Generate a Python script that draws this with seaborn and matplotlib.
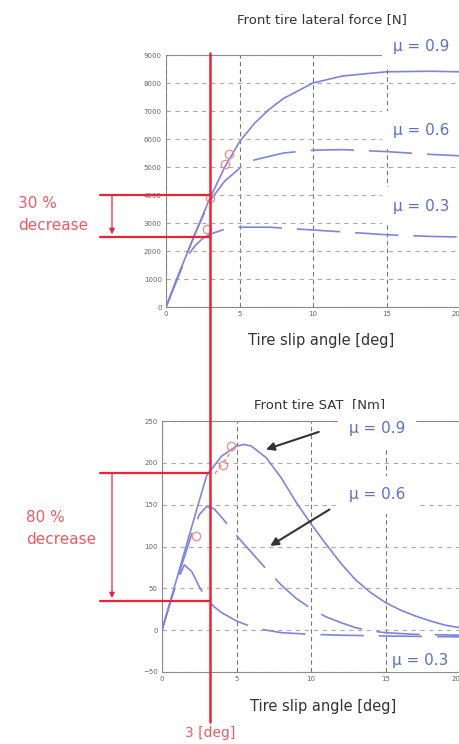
import numpy as np
import pandas as pd
import matplotlib.pyplot as plt
import matplotlib.transforms as mtransforms
from matplotlib.lines import Line2D
import seaborn as sns

# ------------------------------------------------------------
# values
# ------------------------------------------------------------
MU_LABELS = ["0.9", "0.6", "0.3"]

# front tire lateral force [N]
fy_x_09 = [0, 1, 2, 3, 4, 5, 6, 7, 8, 10, 12, 15, 18, 20]
fy_y_09 = [0, 1350, 2650, 3900, 5000, 5900, 6550, 7050, 7450, 8000, 8250, 8400, 8420, 8400]
fy_x_06 = [0, 1, 2, 3, 4, 5, 6, 8, 10, 12, 15, 18, 20]
fy_y_06 = [0, 1350, 2650, 3800, 4500, 4950, 5250, 5500, 5600, 5620, 5550, 5450, 5400]
fy_x_03 = [0, 0.5, 1, 1.5, 2, 2.5, 3, 4, 5, 7, 10, 13, 15, 18, 20]
fy_y_03 = [0, 650, 1300, 1850, 2200, 2450, 2600, 2780, 2850, 2850, 2750, 2650, 2580, 2520, 2500]
fy_mark_x = [2.8, 3.0, 4.0, 4.3]
fy_mark_y = [2800, 3900, 5100, 5450]

# front tire self aligning torque [Nm]
sat_x_09 = [0, 1, 2, 3, 4, 5, 5.5, 6, 7, 8, 9, 10, 11, 12, 13, 14, 15, 16, 17, 18, 19, 20]
sat_y_09 = [0, 62, 124, 185, 208, 220, 222, 220, 206, 182, 153, 127, 103, 80, 60, 45, 33, 24, 17, 11, 6, 3]
sat_x_06 = [0, 1, 2, 2.5, 3, 3.5, 4, 5, 6, 7, 8, 9, 10, 11, 12, 13, 14, 15, 17, 20]
sat_y_06 = [0, 60, 115, 138, 148, 145, 135, 113, 93, 73, 54, 38, 26, 16, 9, 3, -1, -3, -5, -6]
sat_x_03 = [0, 0.5, 1, 1.5, 2, 2.5, 3, 3.5, 4, 5, 6, 7, 8, 10, 12, 15, 20]
sat_y_03 = [0, 30, 58, 78, 70, 52, 37, 28, 21, 11, 4, 0, -3, -5, -6, -7, -8]
sat_mark_x = [2.3, 4.1, 4.6]
sat_mark_y = [113, 198, 220]
sat_peak_x = [3.55, 5.0]
sat_peak_y = [187, 222]

# red guide levels
slip_ref = 3
fy_levels = [4000, 2500]
sat_levels = [188, 35]

BLUE = "#7d84e0"
TXT_BLUE = "#5a6fcf"
RED = "#e3263a"
RED_TXT = "#ec5a62"
GREY = "#666666"


def to_long(xs, ys):
    frames = []
    for mu, x, y in zip(MU_LABELS, xs, ys):
        frames.append(pd.DataFrame({"slip": x, "val": y, "mu": mu}))
    return pd.concat(frames, ignore_index=True)


fy_df = to_long([fy_x_09, fy_x_06, fy_x_03], [fy_y_09, fy_y_06, fy_y_03])
sat_df = to_long([sat_x_09, sat_x_06, sat_x_03], [sat_y_09, sat_y_06, sat_y_03])

sns.set_theme(style="white")
plt.rcParams["font.family"] = ["DejaVu Sans"]

fig = plt.figure(figsize=(4.6, 7.44), dpi=100)
ax1 = fig.add_axes([166 / 460, 1 - 307 / 744, 294 / 460, 252 / 744])
ax2 = fig.add_axes([162 / 460, 1 - 672 / 744, 298 / 460, 251 / 744])

dash_map = {"0.9": "", "0.6": (26, 9), "0.3": (26, 9)}
pal = {m: BLUE for m in MU_LABELS}

for ax, df in [(ax1, fy_df), (ax2, sat_df)]:
    sns.lineplot(data=df, x="slip", y="val", hue="mu", style="mu",
                 palette=pal, dashes=dash_map, estimator=None, sort=False,
                 linewidth=1.2, legend=False, ax=ax, zorder=3)
    ax.set_xlim(0, 20)
    ax.set_xticks([0, 5, 10, 15, 20])
    ax.set_xlabel("")
    ax.set_ylabel("")
    ax.grid(axis="y", color="#aaaaaa", linestyle=(0, (4, 4)), linewidth=0.8)
    ax.grid(axis="x", color="#777777", linestyle=(0, (4, 3)), linewidth=0.8)
    ax.tick_params(labelsize=5, colors=GREY, length=2, pad=1)
    # last tick label sits on the figure edge, keep it inside
    ax.get_xticklabels()[-1].set_horizontalalignment("right")
    for sp in ax.spines.values():
        sp.set_color("#8a8a8a")
        sp.set_linewidth(0.8)

ax1.set_ylim(0, 9000)
ax1.set_yticks(np.arange(0, 9001, 1000))
ax2.set_ylim(-50, 250)
ax2.set_yticks(np.arange(-50, 251, 50))

# red circles
ax1.plot(fy_mark_x, fy_mark_y, "o", mfc="none", mec="#f08a8a", ms=6, mew=0.9, zorder=4)
ax2.plot(sat_mark_x, sat_mark_y, "o", mfc="none", mec="#f08a8a", ms=6, mew=0.9, zorder=4)
ax2.plot(sat_peak_x, sat_peak_y, color="#f08a8a", lw=1.0, ls=(0, (3, 2)), zorder=4)

# titles and x labels
fig.text(322 / 460, 1 - 20 / 744, "Front tire lateral force [N]", ha="center", va="center",
         fontsize=9.5, color="#333333")
fig.text(320 / 460, 1 - 405 / 744, "Front tire SAT  [Nm]", ha="center", va="center",
         fontsize=9.5, color="#333333")
fig.text(321 / 460, 1 - 340 / 744, "Tire slip angle [deg]", ha="center", va="center",
         fontsize=10.5, color="#333333")
fig.text(323 / 460, 1 - 706 / 744, "Tire slip angle [deg]", ha="center", va="center",
         fontsize=10.5, color="#333333")

# mu labels
for x, y, lab, pad in [(421, 47, "0.9", 8), (421, 130, "0.6", 8), (421, 206, "0.3", 8),
                       (377, 428, "0.9", 8), (377, 495, "0.6", 8), (420, 660, "0.3", 3)]:
    fig.text(x / 460, 1 - y / 744, "\u03bc = " + lab, ha="center", va="center",
             fontsize=11, color=TXT_BLUE,
             bbox=dict(facecolor="white", edgecolor="none", pad=pad), zorder=5)

# black arrows on SAT plot
ax2.annotate("", xy=(6.8, 215), xytext=(10.7, 238),
             arrowprops=dict(arrowstyle="-|>", color="#333333", lw=1.5, mutation_scale=12))
ax2.annotate("", xy=(7.1, 99), xytext=(11.4, 146),
             arrowprops=dict(arrowstyle="-|>", color="#333333", lw=1.5, mutation_scale=12))

# red vertical line at 3 deg
vtrans = mtransforms.blended_transform_factory(ax1.transData, fig.transFigure)
fig.add_artist(Line2D([slip_ref, slip_ref], [1 - 53 / 744, 1 - 722 / 744],
                      transform=vtrans, color=RED, lw=1.8, zorder=6))
fig.text(210 / 460, 1 - 733 / 744, "3 [deg]", ha="center", va="center",
         fontsize=10, color=RED_TXT)

# red horizontal levels and arrows
for ax, levels in [(ax1, fy_levels), (ax2, sat_levels)]:
    htrans = mtransforms.blended_transform_factory(fig.transFigure, ax.transData)
    x_end = ax1.transData.transform((slip_ref, 0))[0]
    x_end = fig.transFigure.inverted().transform((x_end, 0))[0]
    for lv in levels:
        fig.add_artist(Line2D([100 / 460, x_end], [lv, lv], transform=htrans,
                              color=RED, lw=1.6, zorder=6))
    ax.annotate("", xy=(112 / 460, levels[1]), xycoords=htrans,
                xytext=(112 / 460, levels[0]), textcoords=htrans,
                arrowprops=dict(arrowstyle="-|>", color=RED, lw=0.9,
                                mutation_scale=8, shrinkA=0, shrinkB=2),
                annotation_clip=False)

fig.text(18 / 460, 1 - 203 / 744, "30 %", ha="left", va="center", fontsize=11, color=RED_TXT)
fig.text(18 / 460, 1 - 225 / 744, "decrease", ha="left", va="center", fontsize=11, color=RED_TXT)
fig.text(26 / 460, 1 - 517 / 744, "80 %", ha="left", va="center", fontsize=11, color=RED_TXT)
fig.text(26 / 460, 1 - 540 / 744, "decrease", ha="left", va="center", fontsize=11, color=RED_TXT)

fig.savefig("out.png", dpi=100)
